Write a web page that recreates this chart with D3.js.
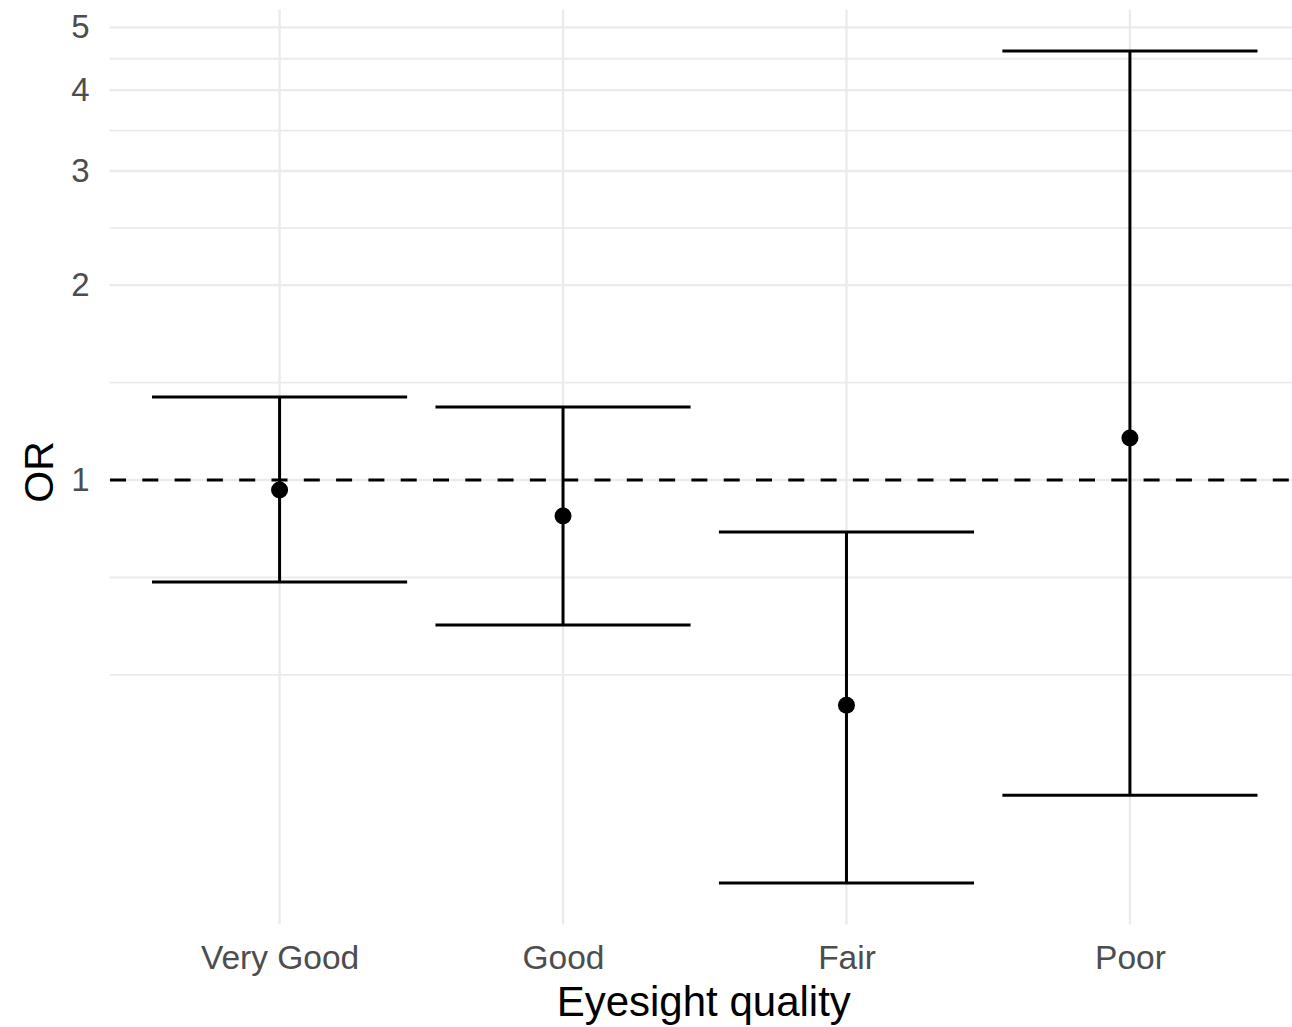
<!DOCTYPE html>
<html>
<head>
<meta charset="utf-8">
<script src="https://cdn.jsdelivr.net/npm/d3@7"></script>
<style>
  html, body { margin: 0; padding: 0; background: #fff; }
  svg { display: block; }
  text { font-family: "Liberation Sans", Arial, Helvetica, sans-serif; }
</style>
</head>
<body>
<svg id="chart" width="1292" height="1027"></svg>
<script>
const categories = ["Very Good", "Good", "Fair", "Poor"];
const orValues   = [0.965, 0.880, 0.449, 1.161];
const lowerCI    = [0.696, 0.597, 0.2387, 0.326];
const upperCI    = [1.343, 1.296, 0.831, 4.596];
const yTicks     = [1, 2, 3, 4, 5];
const yMinor     = [0.5, Math.SQRT1_2, Math.SQRT2, Math.sqrt(6), Math.sqrt(12), Math.sqrt(20)];
const refLine    = 1;

const W = 1292, H = 1027;
const panel = { left: 109.5, right: 1300, top: 9.5, bottom: 924.5 };

const svg = d3.select("#chart");

// log-space expansion of 5%
const lmin = Math.log(d3.min(lowerCI)), lmax = Math.log(d3.max(upperCI));
const pad = (lmax - lmin) * 0.05;
const y = d3.scaleLog()
  .domain([Math.exp(lmin - pad), Math.exp(lmax + pad)])
  .range([panel.bottom, panel.top]);

const x = d3.scalePoint()
  .domain(categories)
  .range([panel.left, panel.right])
  .padding(0.6);
const step = x.step();

const grid = svg.append("g");
grid.selectAll("line.minor").data(yMinor).enter().append("line")
  .attr("x1", panel.left).attr("x2", panel.right)
  .attr("y1", d => y(d)).attr("y2", d => y(d))
  .attr("stroke", "#ebebeb").attr("stroke-width", 1.8);
grid.selectAll("line.major").data(yTicks).enter().append("line")
  .attr("x1", panel.left).attr("x2", panel.right)
  .attr("y1", d => y(d)).attr("y2", d => y(d))
  .attr("stroke", "#ebebeb").attr("stroke-width", 2.4);
grid.selectAll("line.v").data(categories).enter().append("line")
  .attr("x1", d => x(d)).attr("x2", d => x(d))
  .attr("y1", panel.top).attr("y2", panel.bottom)
  .attr("stroke", "#ebebeb").attr("stroke-width", 2.4);

const yAxis = d3.axisLeft(y).tickValues(yTicks).tickFormat(d3.format("d")).tickSize(0).tickPadding(20);
const gy = svg.append("g").attr("transform", `translate(${panel.left},0)`).call(yAxis);
gy.select(".domain").remove();
gy.selectAll("text").attr("font-size", 33).attr("fill", "#4d4d4d")
  .attr("font-family", "'Liberation Sans', Arial, sans-serif");

const xAxis = d3.axisBottom(x).tickSize(0).tickPadding(21);
const gx = svg.append("g").attr("transform", `translate(0,${panel.bottom})`).call(xAxis);
gx.select(".domain").remove();
gx.selectAll("text").attr("font-size", 33.5).attr("fill", "#4d4d4d")
  .attr("font-family", "'Liberation Sans', Arial, sans-serif");

svg.append("line")
  .attr("x1", panel.left + 0.5).attr("x2", panel.right)
  .attr("y1", y(refLine)).attr("y2", y(refLine))
  .attr("stroke", "#000").attr("stroke-width", 3)
  .attr("stroke-dasharray", "16,16.3");

const data = categories.map((c, i) => ({ c, v: orValues[i], lo: lowerCI[i], hi: upperCI[i] }));
const eb = svg.append("g");
const halfCap = step * 0.9 / 2;
eb.selectAll("line.stem").data(data).enter().append("line")
  .attr("x1", d => x(d.c)).attr("x2", d => x(d.c))
  .attr("y1", d => y(d.lo)).attr("y2", d => y(d.hi))
  .attr("stroke", "#000").attr("stroke-width", 3);
eb.selectAll("line.capHi").data(data).enter().append("line")
  .attr("x1", d => x(d.c) - halfCap).attr("x2", d => x(d.c) + halfCap)
  .attr("y1", d => y(d.hi)).attr("y2", d => y(d.hi))
  .attr("stroke", "#000").attr("stroke-width", 3);
eb.selectAll("line.capLo").data(data).enter().append("line")
  .attr("x1", d => x(d.c) - halfCap).attr("x2", d => x(d.c) + halfCap)
  .attr("y1", d => y(d.lo)).attr("y2", d => y(d.lo))
  .attr("stroke", "#000").attr("stroke-width", 3);
eb.selectAll("circle").data(data).enter().append("circle")
  .attr("cx", d => x(d.c)).attr("cy", d => y(d.v))
  .attr("r", 8.5).attr("fill", "#000");

svg.append("text")
  .attr("x", (panel.left + panel.right) / 2 - 1).attr("y", 1016)
  .attr("text-anchor", "middle").attr("font-size", 42).attr("fill", "#000")
  .text("Eyesight quality");
svg.append("text")
  .attr("transform", `translate(53,${(panel.top + panel.bottom) / 2 + 5}) rotate(-90)`)
  .attr("text-anchor", "middle").attr("font-size", 41).attr("fill", "#000")
  .text("OR");
</script>
</body>
</html>
